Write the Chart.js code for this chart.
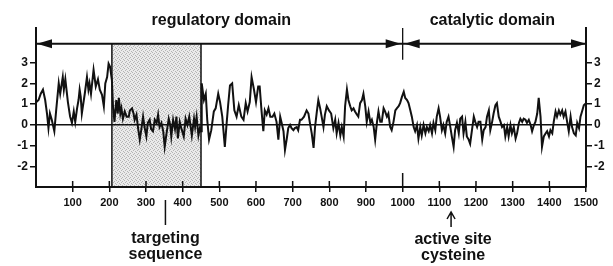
<!DOCTYPE html>
<html><head><meta charset="utf-8">
<script src="https://cdn.jsdelivr.net/npm/chart.js@4/dist/chart.umd.min.js"></script>
<style>html,body{margin:0;padding:0;background:#fff}#wrap{width:613px;height:266px;position:relative}</style>
</head><body><div id="wrap"><canvas id="c" width="613" height="266"></canvas></div>
<script>
const residue = [1,7,13,19,25,30,34,38,43,50,55,62,66,73,76,80,87,93,98,103,107,112,116,119,122,125,133,139,143,146,150,157,163,169,174,180,185,189,194,198,202,207,210,214,219,223,226,230,233,237,242,247,253,256,262,266,269,274,278,283,287,292,296,301,305,310,314,319,324,329,333,337,342,347,351,356,362,366,369,374,379,383,387,392,397,403,408,413,418,425,431,434,438,443,447,450,452,458,463,467,472,478,485,490,497,502,508,515,520,524,529,535,541,547,553,560,566,572,577,583,588,594,600,606,610,615,620,624,629,634,639,645,650,656,661,666,670,675,679,684,688,693,697,702,706,711,715,720,724,731,738,743,747,752,757,761,766,770,775,779,784,788,793,799,805,811,816,820,825,830,834,839,843,848,852,857,861,866,870,875,879,884,889,893,898,902,907,912,916,921,925,930,934,939,943,948,952,957,961,966,970,975,980,984,989,993,998,1003,1007,1012,1016,1021,1025,1030,1034,1039,1043,1048,1052,1057,1062,1066,1071,1075,1080,1084,1089,1093,1098,1102,1107,1111,1116,1120,1125,1130,1134,1139,1143,1148,1153,1157,1162,1166,1171,1175,1180,1184,1189,1194,1198,1203,1207,1212,1217,1221,1226,1230,1235,1239,1244,1248,1253,1257,1262,1267,1271,1276,1280,1285,1289,1294,1298,1303,1308,1312,1317,1321,1326,1330,1335,1339,1344,1349,1353,1358,1362,1367,1371,1376,1380,1385,1390,1394,1399,1403,1408,1412,1417,1421,1426,1430,1435,1439,1444,1449,1453,1458,1462,1467,1472,1476,1481,1485,1490,1494,1500];
const hydropathy = [1.1,1.2,1.5,1.7,1.2,0.55,-0.15,0.55,0.25,-0.3,0.7,2.0,1.5,2.3,1.7,2.2,1.1,0.4,0.1,0.65,0.15,0.8,1.2,1.7,1.35,0.55,1.5,2.3,1.7,2.0,1.5,2.65,1.85,2.2,1.7,1.45,0.9,2.0,2.3,2.95,2.8,2.15,0.9,0.15,1.2,0.55,1.3,0.55,0.8,0.3,0.65,0.4,0.4,0.7,0.8,0.55,0.25,0.5,-0.1,-0.7,-0.25,0.4,-0.1,-0.55,0.1,0.25,-0.2,-0.3,0.25,0.1,0.5,-0.1,0.1,-0.3,-1.05,-0.4,0.3,0.0,-0.55,0.25,-0.2,0.4,-0.65,0.15,-0.2,-0.55,0.3,0.0,0.4,-0.5,0.3,-0.1,0.4,-0.5,-0.15,-0.3,2.0,1.2,1.5,0.25,-0.7,-0.25,0.65,0.8,1.5,1.1,0.4,-1.05,0.1,0.95,1.9,2.0,0.7,0.4,0.95,0.4,0.25,1.05,0.65,1.1,2.3,1.75,1.1,1.85,1.85,0.7,-0.3,0.7,0.5,0.8,0.4,0.4,0.55,0.15,-0.7,0.4,0.1,-0.3,-1.2,-0.65,-0.15,0,-0.15,-0.25,-0.15,-0.1,-0.25,0.25,0.25,0.4,0.7,0.55,0.1,-0.4,-1.1,-0.1,0.65,1.2,0.8,0.4,-0.1,0.5,0.9,0.7,0.55,-0.15,0.25,-0.4,0.1,-0.5,-0.1,-0.55,0.9,1.7,1.2,0.9,0.7,0.8,0.65,0.5,0.4,1.05,1.2,1.5,0.9,0.15,0.65,0.1,0.25,-0.1,-0.7,0.15,0.65,0.15,0.15,0.8,0.65,0.4,0.55,-0.1,-0.25,0.15,0.7,0.8,0.9,1.05,1.35,1.6,1.3,1.2,1.05,0.7,0.4,-0.1,-0.3,0,-0.65,-0.1,-0.5,0,-0.4,-0.1,-0.3,0,-0.4,0.1,-0.25,0.4,0.8,0.4,-0.25,0,-0.4,0.15,0.4,-0.1,-0.55,-1.05,-0.25,0.1,-0.4,0.3,0.4,-0.4,0.15,-0.55,-0.7,-0.9,-0.25,0.4,0.15,-0.1,0.15,0.15,-0.7,-0.25,-0.1,0.4,0.7,-0.25,0.15,0.55,0.95,1.05,0.4,0.15,-0.1,0,-0.55,-0.1,-0.55,0,-0.4,-0.1,-0.65,-0.4,0.1,0.3,0.15,0.3,0.25,0.1,0.25,0,-0.3,0,0.15,0.55,1.3,0.4,-1.05,-0.55,-0.4,-0.3,-0.55,-0.25,-0.4,0.15,0.65,0.4,0.7,0.5,0.7,0.4,0.65,0.1,-0.3,0.4,-0.1,-0.4,-0.5,0.1,-0.15,0.4,0.7,0.95,1.05];
const xTickValues = [100,200,300,400,500,600,700,800,900,1000,1100,1200,1300,1400,1500];
const yTickValues = [-2,-1,0,1,2,3];
const domainLabels = ['regulatory domain','catalytic domain'];
const domainBounds = [0,1000,1500];
const targetingRange = [207,450];
const targetingMark = 353;
const targetingText = ['targeting','sequence'];
const activeSite = 1132;
const activeSiteText = ['active site','cysteine'];

const FONT = "'Liberation Sans', Arial, Helvetica, sans-serif";
const INK = '#111';

function makePattern(ctx){
  const p = document.createElement('canvas'); p.width = 4; p.height = 4;
  const g = p.getContext('2d');
  g.fillStyle = '#eaeaea'; g.fillRect(0,0,4,4);
  g.fillStyle = '#b4b4b4';
  [[0,0],[2,1],[1,2],[3,3]].forEach(([a,b])=>g.fillRect(a,b,1,1));
  return ctx.createPattern(p,'repeat');
}

const decor = {
  id:'decor',
  beforeDraw(chart){
    const {ctx, chartArea:ca, scales:{x,y}} = chart;
    const top = y.getPixelForValue(3.9);
    const x1 = x.getPixelForValue(targetingRange[0]), x2 = x.getPixelForValue(targetingRange[1]);
    ctx.save();
    ctx.fillStyle = makePattern(ctx);
    ctx.fillRect(x1, top, x2-x1, ca.bottom-top);
    ctx.strokeStyle = INK; ctx.lineWidth = 1.5;
    ctx.beginPath();
    ctx.moveTo(x1, top); ctx.lineTo(x1, ca.bottom);
    ctx.moveTo(x2, top); ctx.lineTo(x2, ca.bottom);
    ctx.stroke();
    ctx.restore();
  },
  afterDraw(chart){
    const {ctx, chartArea:ca, scales:{x,y}} = chart;
    ctx.save();
    ctx.strokeStyle = INK; ctx.fillStyle = INK;
    ctx.lineWidth = 1.5;
    ctx.beginPath();
    xTickValues.forEach(v=>{
      const px = x.getPixelForValue(v);
      ctx.moveTo(px, ca.bottom - (v===1000?14:6)); ctx.lineTo(px, ca.bottom);
    });
    ctx.stroke();
    const ay = y.getPixelForValue(3.9);
    const b = domainBounds.map(v=>x.getPixelForValue(v));
    ctx.lineWidth = 2;
    ctx.beginPath(); ctx.moveTo(b[0], ay); ctx.lineTo(b[2], ay); ctx.stroke();
    const head = (tip, dir)=>{
      ctx.beginPath();
      ctx.moveTo(tip, ay);
      ctx.lineTo(tip - dir*15, ay-4.5);
      ctx.lineTo(tip - dir*15, ay+4.5);
      ctx.closePath(); ctx.fill();
    };
    head(b[0]+1,-1); head(b[1]-2,1); head(b[1]+2,-1); head(b[2],1);
    ctx.lineWidth = 1.3;
    ctx.beginPath(); ctx.moveTo(b[1], ca.top); ctx.lineTo(b[1], ay+16); ctx.stroke();
    ctx.font = 'bold 16px ' + FONT;
    ctx.textAlign = 'center'; ctx.textBaseline = 'alphabetic';
    ctx.fillText(domainLabels[0], (b[0]+b[1])/2 + 2, 25);
    ctx.fillText(domainLabels[1], (b[1]+b[2])/2 - 2, 25);
    const tx = x.getPixelForValue(targetingMark);
    ctx.lineWidth = 1.5;
    ctx.beginPath(); ctx.moveTo(tx, 200); ctx.lineTo(tx, 225); ctx.stroke();
    ctx.fillText(targetingText[0], tx, 243);
    ctx.fillText(targetingText[1], tx, 259);
    const sx = x.getPixelForValue(activeSite);
    ctx.beginPath(); ctx.moveTo(sx, 227); ctx.lineTo(sx, 212);
    ctx.moveTo(sx-4, 219); ctx.lineTo(sx, 212); ctx.lineTo(sx+4, 219);
    ctx.stroke();
    ctx.fillText(activeSiteText[0], sx+2, 244);
    ctx.fillText(activeSiteText[1], sx+2, 260);
    ctx.restore();
  }
};

const yCommon = {
  min: -2.98, max: 4.66,
  afterBuildTicks: s => { s.ticks = yTickValues.map(v=>({value:v})); },
  ticks: { font:{family:FONT, size:12, weight:'bold'}, color:INK, padding:2, callback: v => String(v) },
  border: { color:INK, width:2 }
};

new Chart(document.getElementById('c'), {
  type:'line',
  data:{ datasets:[{
    data: residue.map((r,i)=>({x:r, y:hydropathy[i]})),
    borderColor:INK, borderWidth:2, pointRadius:0, tension:0, fill:false
  }]},
  options:{
    responsive:false, animation:false, devicePixelRatio:1,
    layout:{ padding:{ top:28, left:0, right:0, bottom:0 } },
    plugins:{ legend:{display:false}, tooltip:{enabled:false} },
    scales:{
      x:{
        type:'linear', min:0, max:1500,
        afterBuildTicks: s => { s.ticks = xTickValues.map(v=>({value:v})); },
        afterFit: s => { s.height = 79; },
        ticks:{ font:{family:FONT, size:11, weight:'bold'}, color:INK, padding:4, maxRotation:0, autoSkip:false, callback: v => String(v) },
        grid:{ drawOnChartArea:false, tickLength:5, color:INK, lineWidth:1.5 },
        border:{ color:INK, width:2 }
      },
      y:{ ...yCommon, position:'left',
        afterFit: s => { s.width = 36; },
        grid:{
          color: c => (c.tick && c.tick.value === 0) ? INK : 'rgba(0,0,0,0)',
          lineWidth: 1.5, tickColor: INK, tickLength: 6
        }
      },
      y2:{ ...yCommon, position:'right',
        afterFit: s => { s.width = 27; },
        grid:{ drawOnChartArea:false, color:INK, lineWidth:1.5, tickLength:6 }
      }
    }
  },
  plugins:[decor]
});
</script>
</body></html>
